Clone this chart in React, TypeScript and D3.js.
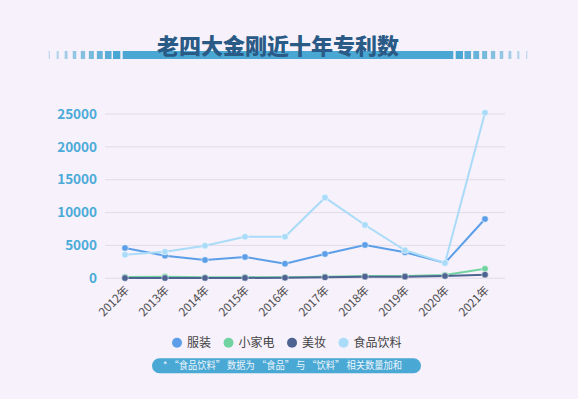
import React, { useEffect, useRef } from "react";
import * as d3 from "d3";

const years = ["2012年", "2013年", "2014年", "2015年", "2016年", "2017年", "2018年", "2019年", "2020年", "2021年"];
const clothing = [4610, 3440, 2780, 3240, 2220, 3700, 5070, 3960, 2330, 9020];
const appliance = [200, 250, 150, 150, 150, 250, 350, 350, 500, 1450];
const beauty = [30, 40, 50, 60, 80, 150, 250, 250, 350, 550];
const food = [3590, 4050, 4960, 6330, 6330, 12270, 8110, 4260, 2330, 25200];
const yTicks = [0, 5000, 10000, 15000, 20000, 25000];

const seriesNames = ["服装", "小家电", "美妆", "食品饮料"];
const seriesData = [clothing, appliance, beauty, food];
const seriesColors = ["#5c9fe8", "#72d3a2", "#4e6391", "#aadbf8"];

const W = 578;
const H = 399;
const FONT = "'Noto Sans CJK SC', 'Noto Sans', sans-serif";

export default function App() {
  const ref = useRef<SVGSVGElement | null>(null);

  useEffect(() => {
    const svg = d3.select(ref.current);
    svg.selectAll("*").remove();

    svg.append("rect").attr("width", W).attr("height", H).attr("fill", "#f6f1fa");

    // Title decoration
    const deco = svg.append("g");
    const cx = 288;
    deco.append("rect").attr("x", 122.7).attr("y", 51).attr("width", 330.6).attr("height", 8).attr("fill", "#4aa6d2");
    for (let k = 1; k <= 9; k++) {
      const w = 7.3 - 0.75 * (k - 1);
      const right = 120.3 - 8.8 * (k - 1);
      const left = right - w;
      const op = 1 - 0.085 * (k - 1);
      [left, 2 * cx - right].forEach((xx) => {
        deco.append("rect").attr("x", xx).attr("y", 51).attr("width", w).attr("height", 8)
          .attr("fill", "#4aa6d2").attr("opacity", op);
      });
    }
    svg.append("text").attr("x", 278).attr("y", 54).attr("text-anchor", "middle")
      .attr("font-family", FONT).attr("font-weight", 900).attr("font-size", 22)
      .attr("fill", "#2a5a86").text("老四大金刚近十年专利数");

    const x = d3.scaleBand().domain(years).range([105, 505]);
    const y = d3.scaleLinear().domain([0, 25000]).range([278.3, 114]);

    // grid
    const grid = svg.append("g");
    yTicks.forEach((t) => {
      grid.append("line").attr("x1", 105).attr("x2", 505).attr("y1", y(t)).attr("y2", y(t))
        .attr("stroke", "#e2dce8").attr("stroke-width", 1);
      grid.append("text").attr("x", 97).attr("y", y(t)).attr("dy", "0.35em").attr("text-anchor", "end")
        .attr("font-family", FONT).attr("font-weight", 700).attr("font-size", 13.5)
        .attr("fill", "#4aaad8").text(String(t));
    });

    // x labels
    years.forEach((yr) => {
      const px = (x(yr) as number) + x.bandwidth() / 2;
      svg.append("text").attr("transform", `translate(${px + 2},${288}) rotate(-45)`)
        .attr("text-anchor", "end").attr("dy", "0.35em")
        .attr("font-family", FONT).attr("font-size", 11.5).attr("fill", "#4a4a4a").text(yr);
    });

    const line = d3.line<number>()
      .x((_, i) => (x(years[i]) as number) + x.bandwidth() / 2)
      .y((d) => y(d));

    seriesData.forEach((data, si) => {
      const g = svg.append("g");
      g.append("path").attr("d", line(data) as string).attr("fill", "none")
        .attr("stroke", seriesColors[si]).attr("stroke-width", 2);
      data.forEach((d, i) => {
        g.append("circle").attr("cx", (x(years[i]) as number) + x.bandwidth() / 2).attr("cy", y(d))
          .attr("r", 3.3).attr("fill", seriesColors[si]).attr("stroke", "#ffffff")
          .attr("stroke-opacity", 0.5).attr("stroke-width", 1);
      });
    });

    // legend
    const leg = svg.append("g");
    let lx = 172;
    seriesNames.forEach((name, i) => {
      leg.append("circle").attr("cx", lx + 5).attr("cy", 342.7).attr("r", 5).attr("fill", seriesColors[i]);
      const t = leg.append("text").attr("x", lx + 15).attr("y", 342.7).attr("dy", "0.35em")
        .attr("font-family", FONT).attr("font-size", 12).attr("fill", "#444").text(name);
      const tw = (t.node() as SVGTextElement).getComputedTextLength();
      lx += 15 + tw + 12.5;
    });

    // note
    svg.append("rect").attr("x", 152).attr("y", 358.3).attr("width", 269).attr("height", 15)
      .attr("rx", 7.5).attr("fill", "#4aa8d4");
    svg.append("text").attr("x", 163).attr("y", 365.8).attr("dy", "0.35em")
      .attr("font-family", FONT).attr("font-size", 9.8).attr("fill", "#eaf5fc")
      .attr("textLength", 239).attr("lengthAdjust", "spacingAndGlyphs")
      .text("*  “食品饮料” 数据为 “食品” 与 “饮料” 相关数量加和");
  }, []);

  return <svg ref={ref} width={W} height={H} style={{ display: "block", position: "absolute", left: 0, top: 0 }} />;
}
